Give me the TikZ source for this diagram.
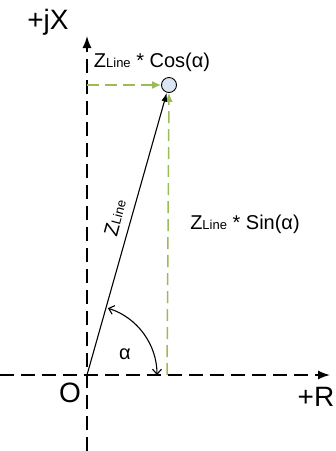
\documentclass[tikz,border=0pt]{standalone}
\usepackage{fontspec}
\setmainfont{Liberation Sans}
\usetikzlibrary{arrows.meta}
\definecolor{lgreen}{RGB}{155,187,89}
\definecolor{cfill}{RGB}{220,230,242}
\newcommand{\zl}{{\fontsize{20}{20}\selectfont Z}{\fontsize{13}{13}\selectfont Line}}
\begin{document}
\begin{tikzpicture}[x=1pt,y=-1pt,
  axis/.style={line width=1.5pt, dash pattern=on 14pt off 7pt, -{Latex[length=12pt,width=9pt]}},
  gdash/.style={lgreen, line width=1.5pt, dash pattern=on 12pt off 6pt, -{Latex[length=9pt,width=8pt]}},
  zline/.style={line width=1.1pt, -{Latex[length=9pt,width=6pt]}},
  big/.style={font=\fontsize{28}{28}\selectfont, inner sep=0pt},
  mid/.style={font=\fontsize{20}{20}\selectfont, inner sep=0pt}]
\useasboundingbox (0,0) rectangle (336,451);
\coordinate (O) at (87,375);
\coordinate (Ytop) at (87,36);
\coordinate (Ybot) at (87,451);
\coordinate (Xl) at (0,375);
\coordinate (Xr) at (330,375);
\draw[axis] (Ybot) -- (Ytop);
\draw[axis] (Xl) -- (Xr);
\node[circle, draw, fill=cfill, minimum size=15pt, inner sep=0pt, line width=0.9pt] (P) at (169,85) {};
\coordinate (G1) at (87,85);
\coordinate (G2) at (167,375);
\draw[gdash] (G1) -- (P.west);
\draw[gdash] (G2) -- (P.south);
\draw[zline] (O) -- (P);
\draw[line width=1.1pt, {Straight Barb[length=5pt,width=9pt]}-{Straight Barb[length=5pt,width=9pt]}]
  ([shift={(-72.6:70)}]O) arc[start angle=-72.6, end angle=0, radius=70];
\node[big] (lj) at (48,22) {+jX};
\node[big] (lo) at (70,393) {O};
\node[big] (lr) at (316,397) {+R};
\node[mid] (la) at (125,354) {α};
\node[inner sep=0pt] (lc) at (152,62) {\zl{\fontsize{20}{20}\selectfont{} * Cos(α)}};
\node[inner sep=0pt] (ls) at (245,224) {\zl{\fontsize{20}{20}\selectfont{} * Sin(α)}};
\node[inner sep=0pt, rotate=75] (lz) at (115,218) {\zl};
\end{tikzpicture}
\end{document}
